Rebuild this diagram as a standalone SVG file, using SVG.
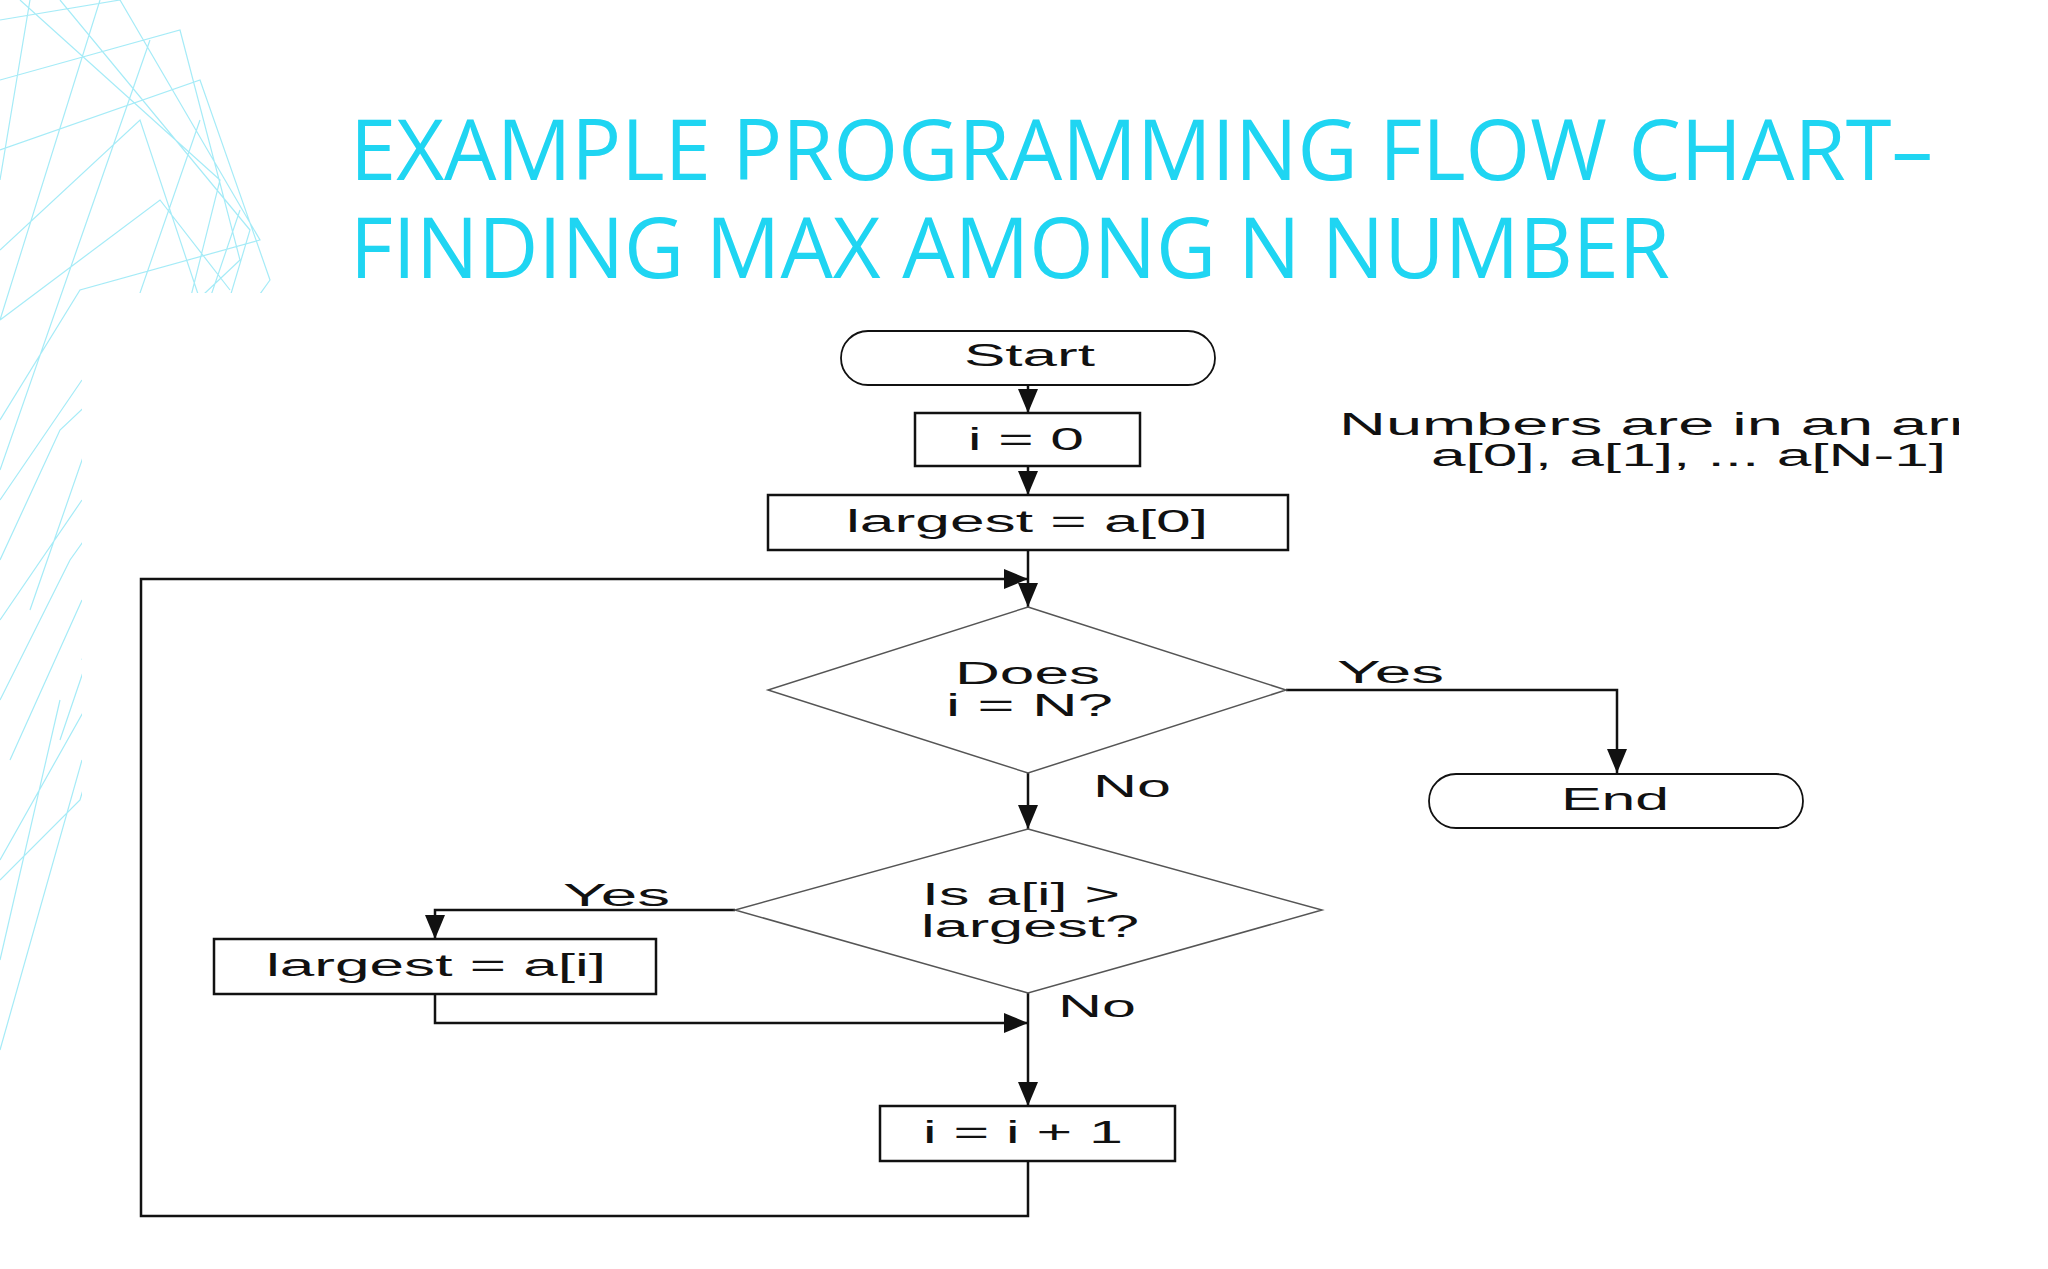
<svg xmlns="http://www.w3.org/2000/svg" width="2048" height="1269" viewBox="0 0 2048 1269">
<style>
.t{font-family:"Liberation Sans",Arial,sans-serif;font-size:31px;fill:#111}
.ttl{font-family:"Open Sans","Liberation Sans",sans-serif;font-size:84px;fill:#1fd5f2}
.s{fill:#fff;stroke:#111;stroke-width:2.5}
.c{fill:none;stroke:#111;stroke-width:2.5}
.w{fill:none;stroke:#7fe3f3;stroke-width:1.2;opacity:.7}
</style>
<defs>
<marker id="a" viewBox="0 0 24 20" refX="24" refY="10" markerWidth="24" markerHeight="20" markerUnits="userSpaceOnUse" orient="auto">
<path d="M0,0 L24,10 L0,20 z" fill="#111"/>
</marker>
<clipPath id="nc"><rect x="0" y="0" width="1959" height="1269"/></clipPath>
</defs>
<rect width="2048" height="1269" fill="#fff"/>
<g id="bg">
<path class="w" d="M0,20 L120,0 L260,240 L80,290 L0,420 M0,80 L180,30 L240,260 L60,430 L0,560 M0,150 L200,80 L270,280 L70,560 L0,700 M20,0 L220,180 L90,700 L0,860 M60,0 L250,230 L80,800 L0,880 M0,250 L140,120 L200,300 L82,660 M0,320 L160,200 L230,290 M0,500 L82,380 M0,620 L82,500 M10,760 L82,600 M0,960 L60,700 M0,1050 L82,760 M30,0 L0,180 M100,0 L0,320 M150,40 L0,470 M200,120 L30,610 M240,210 L60,740"/>
<rect x="82" y="293" width="1966" height="976" fill="#fff"/>
</g>
<g id="title">
<text class="ttl" x="350" y="180" textLength="1583" lengthAdjust="spacingAndGlyphs">EXAMPLE PROGRAMMING FLOW CHART–</text>
<text class="ttl" x="350" y="278" textLength="1320" lengthAdjust="spacingAndGlyphs">FINDING MAX AMONG N NUMBER</text>
</g>
<g id="connectors">
<path class="c" d="M1028,385 V413" marker-end="url(#a)"/>
<path class="c" d="M1028,550 V607" marker-end="url(#a)"/>
<path class="c" d="M1028,466 V495" marker-end="url(#a)"/>
<path class="c" d="M1286,690 H1617 V773" marker-end="url(#a)"/>
<path class="c" d="M1028,773 V829" marker-end="url(#a)"/>
<path class="c" d="M735,910 H435 V939" marker-end="url(#a)"/>
<path class="c" d="M435,994 V1023 H1028" marker-end="url(#a)"/>
<path class="c" d="M1028,993 V1106" marker-end="url(#a)"/>
<path class="c" d="M1028,1161 V1216 H141 V579 H1028" marker-end="url(#a)"/>
</g>
<g id="start"><rect class="s" x="841" y="331" width="374" height="54" rx="27" style="stroke-width:1.8"/><text class="t" x="964" y="366" textLength="131" lengthAdjust="spacingAndGlyphs">Start</text></g>
<g id="init-i"><rect class="s" x="915" y="413" width="225" height="53"/><text class="t" x="968" y="450" textLength="116" lengthAdjust="spacingAndGlyphs">i = 0</text></g>
<g id="init-largest"><rect class="s" x="768" y="495" width="520" height="55"/><text class="t" x="846" y="532" textLength="362" lengthAdjust="spacingAndGlyphs">largest = a[0]</text></g>
<g id="dec1"><polygon class="s" points="1028,607 1286,690 1028,773 768,690" style="stroke:#555;stroke-width:1.5"/><text class="t" x="955" y="684" textLength="145" lengthAdjust="spacingAndGlyphs">Does</text><text class="t" x="946" y="716" textLength="167" lengthAdjust="spacingAndGlyphs">i = N?</text></g>
<g id="end"><rect class="s" x="1429" y="774" width="374" height="54" rx="27" style="stroke-width:1.8"/><text class="t" x="1561" y="810" textLength="108" lengthAdjust="spacingAndGlyphs">End</text></g>
<g id="dec2"><polygon class="s" points="1028,829 1322,910 1028,993 735,910" style="stroke:#555;stroke-width:1.5"/><text class="t" x="922" y="905" textLength="198" lengthAdjust="spacingAndGlyphs">Is a[i] &gt;</text><text class="t" x="921" y="937" textLength="218" lengthAdjust="spacingAndGlyphs">largest?</text></g>
<g id="set-largest"><rect class="s" x="214" y="939" width="442" height="55"/><text class="t" x="266" y="976" textLength="340" lengthAdjust="spacingAndGlyphs">largest = a[i]</text></g>
<g id="inc"><rect class="s" x="880" y="1106" width="295" height="55"/><text class="t" x="923" y="1143" textLength="200" lengthAdjust="spacingAndGlyphs">i = i + 1</text></g>
<g id="labels">
<text class="t" x="1337" y="683" textLength="107" lengthAdjust="spacingAndGlyphs">Yes</text>
<text class="t" x="1093" y="797" textLength="78" lengthAdjust="spacingAndGlyphs">No</text>
<text class="t" x="563" y="906" textLength="107" lengthAdjust="spacingAndGlyphs">Yes</text>
<text class="t" x="1058" y="1017" textLength="78" lengthAdjust="spacingAndGlyphs">No</text>
</g>
<g id="note" clip-path="url(#nc)">
<text class="t" x="1339" y="435" textLength="700" lengthAdjust="spacingAndGlyphs">Numbers are in an array</text>
<text class="t" x="1431" y="466" textLength="515" lengthAdjust="spacingAndGlyphs">a[0], a[1], ... a[N-1]</text>
</g>
</svg>
